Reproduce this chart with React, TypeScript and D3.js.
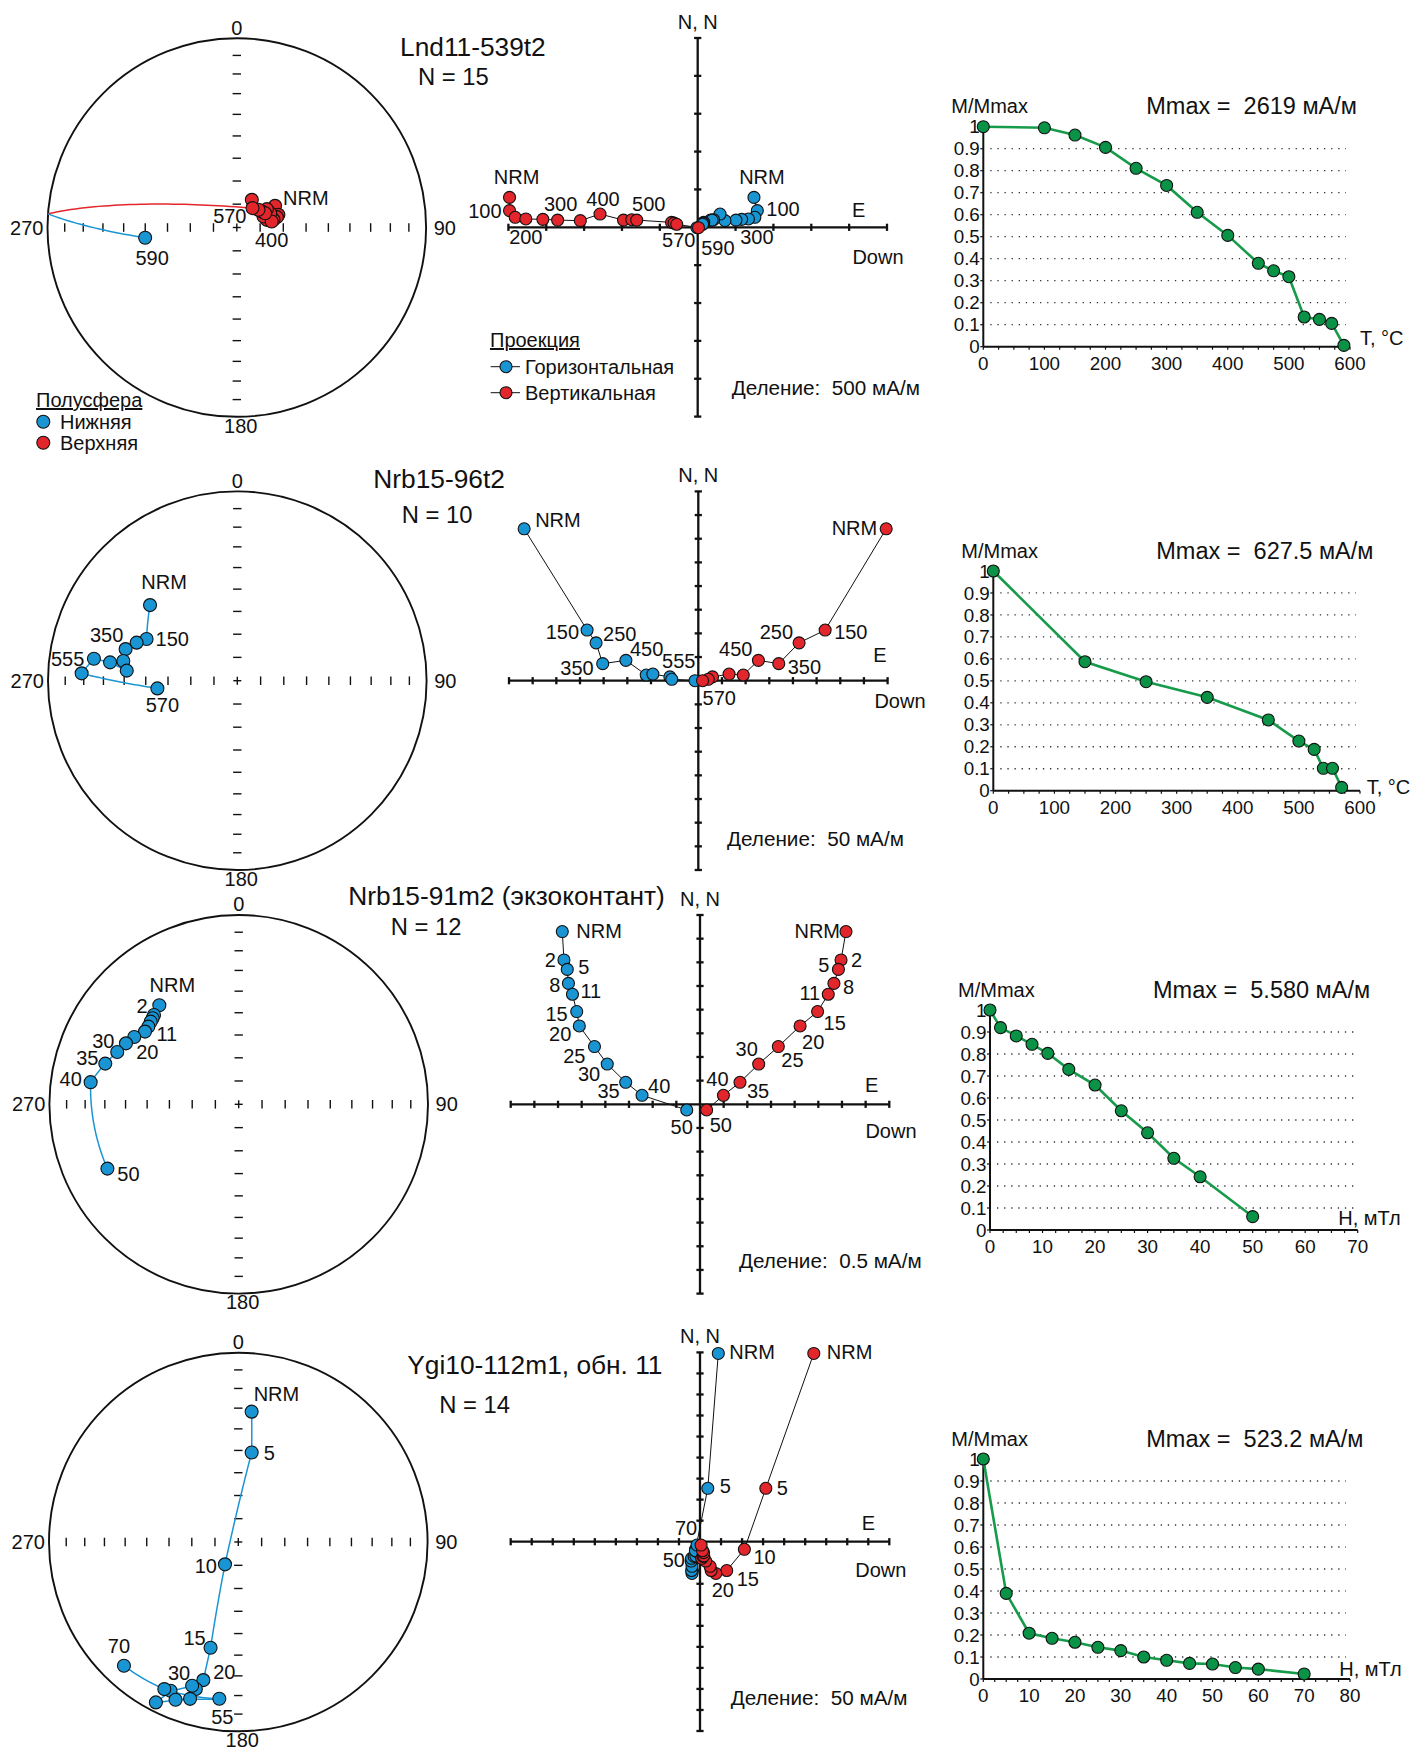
import React from 'react';
import * as d3 from 'd3';

const FONT = '"Liberation Sans", Arial, Helvetica, sans-serif';
const BLUE = '#1a95d4';
const RED = '#e3262b';
const GREEN_LINE = '#179b4b';
const GREEN_FILL = '#0a9346';
const INK = '#111';

// ================= DATA =================
// Row 1 — Lnd11-539t2 (thermal demagnetization, °C)
const steps1 = ['NRM', '100', '150', '200', '250', '300', '350', '400', '450', '475', '500', '525', '550', '570', '590'];
const dec1 = [60.5, 73.1, 75.5, 78.2, 66.7, 75.7, 67.6, 80.3, 58.6, 57.4, 63.2, 50.8, 28.5, 39, 263.6];
const inc1 = [-71.1, -71.3, -72.2, -73.9, -74.4, -76.7, -77.6, -74.8, -74.9, -77.3, -76.4, -78, -76.5, -79.3, 49.7];
const zN1 = [395, 220, 132, 110, 105, 95, 88, 175, 95, 100, 95, 65, 55, 40, -5];
const zE1 = [743, 787, 755, 670, 580, 505, 360, 295, 170, 210, 190, 80, 70, 65, -10];
const zD1 = [-2485, -2485, -2410, -2270, -2045, -1850, -1550, -1290, -980, -870, -805, -345, -312, -277, 10];
const field1 = [0, 100, 150, 200, 250, 300, 350, 400, 450, 475, 500, 525, 550, 570, 590];
const mag1 = [1, 0.995, 0.962, 0.906, 0.811, 0.733, 0.611, 0.506, 0.379, 0.345, 0.318, 0.135, 0.124, 0.106, 0.006];
const xTicks1 = [0, 100, 200, 300, 400, 500, 600];

// Row 2 — Nrb15-96t2 (thermal, °C)
const steps2 = ['NRM', '150', '250', '350', '450', '500', '525', '540', '555', '570'];
const dec2 = [310.9, 294.7, 290.7, 285.8, 279.8, 275.2, 278.2, 278.7, 272.7, 264.5];
const inc2 = [38.9, 46.2, 42.6, 38.6, 38.8, 41, 32.6, 24.4, 18.8, 55.1];
const zN2 = [321, 107, 80, 36, 43, 12, 14, 8, 3, 0];
const zE2 = [-368, -235, -216, -202, -153, -110, -96, -60, -56, -7];
const zD2 = [397, 268, 213, 170, 127, 95, 65, 30, 21, 9];
const field2 = [0, 150, 250, 350, 450, 500, 525, 540, 555, 570];
const mag2 = [1, 0.587, 0.496, 0.425, 0.322, 0.226, 0.188, 0.102, 0.102, 0.015];
const xTicks2 = [0, 100, 200, 300, 400, 500, 600];

// Row 3 — Nrb15-91m2 (экзоконтант) (AF, mT)
const steps3 = ['NRM', '2', '5', '8', '11', '15', '20', '25', '30', '35', '40', '50'];
const dec3 = [321.3, 316.5, 315, 313.2, 310.7, 307.8, 302.8, 298.4, 293.3, 286.96, 278.5, 243.9];
const inc3 = [33.4, 35.25, 35.9, 36.4, 37.15, 37.4, 34.7, 32.8, 30.8, 27.2, 22.0, 23.8];
const zN3 = [3.65, 3.05, 2.85, 2.555, 2.325, 1.96, 1.655, 1.22, 0.85, 0.465, 0.19, -0.12];
const zE3 = [-2.91, -2.875, -2.805, -2.78, -2.695, -2.605, -2.55, -2.23, -1.96, -1.57, -1.225, -0.28];
const zD3 = [3.085, 2.98, 2.925, 2.83, 2.71, 2.485, 2.115, 1.655, 1.24, 0.845, 0.495, 0.14];
const field3 = [0, 2, 5, 8, 11, 15, 20, 25, 30, 35, 40, 50];
const mag3 = [1, 0.92, 0.882, 0.844, 0.803, 0.73, 0.659, 0.542, 0.442, 0.326, 0.242, 0.061];
const xTicks3 = [0, 10, 20, 30, 40, 50, 60, 70];

// Row 4 — Ygi10-112m1, обн. 11 (AF, mT)
const steps4 = ['NRM', '5', '10', '15', '20', '25', '30', '35', '40', '45', '50', '55', '60', '70'];
const dec4 = [5.84, 8.5, 210.8, 194.7, 194.2, 196.1, 197.8, 204.5, 207.2, 201.7, 197.1, 186.9, 206.7, 222.75];
const inc4 = [31.4, 50.5, 78.85, 41.8, 25.7, 20.25, 21.3, 14.76, 5.3, 11.3, 14.4, 17.7, 14.1, 12];
const zN4 = [447.5, 127, -18, -68.5, -75.5, -68.5, -58.5, -46, -39.5, -35, -33.5, -26, -21.5, -8];
const zE4 = [43.5, 18.5, -10.5, -18, -19, -20, -19, -21, -20, -14, -10, -3, -11, -7];
const zD4 = [270.5, 156.5, 105.5, 63.5, 37.5, 26.5, 24, 13.5, 4, 7.5, 9, 8.5, 6, 2.5];
const field4 = [0, 5, 10, 15, 20, 25, 30, 35, 40, 45, 50, 55, 60, 70];
const mag4 = [1, 0.389, 0.208, 0.185, 0.167, 0.144, 0.129, 0.1, 0.085, 0.071, 0.068, 0.052, 0.045, 0.023];
const xTicks4 = [0, 10, 20, 30, 40, 50, 60, 70, 80];

const yTicks = [0, 0.1, 0.2, 0.3, 0.4, 0.5, 0.6, 0.7, 0.8, 0.9, 1];
const titles = ['Lnd11-539t2', 'Nrb15-96t2', 'Nrb15-91m2 (экзоконтант)', 'Ygi10-112m1, обн. 11'];
const mmaxTexts = ['2619', '627.5', '5.580', '523.2'];
const divisions = [500, 50, 0.5, 50];
const divCounts = [5, 8, 8, 9];
const divTexts = ['500', '50', '0.5', '50'];
const xTitles = ['T, °C', 'T, °C', 'H, мТл', 'H, мТл'];
const xMinor = [25, 25, 2.5, 2.5];

// ================= LABEL LAYOUT (offsets from the labelled point) =================
type Lab = [number, string, number, number];
const stLabels: Lab[][] = [
  [[0, 'start', 8, -8], [13, 'end', -6, 8], [7, 'middle', 0, 18], [14, 'middle', 7, 20]],
  [[0, 'middle', 14, -23], [1, 'start', 9, 0], [3, 'middle', -19, -14], [8, 'middle', -14, -14], [9, 'middle', 5, 17]],
  [[0, 'middle', 13, -20], [1, 'middle', -12, -9], [4, 'start', 8, 7], [6, 'middle', 13, 15], [8, 'middle', -14, -11], [9, 'middle', -18, -6], [10, 'middle', -20, -3], [11, 'middle', 21, 5]],
  [[0, 'start', 2, -18], [1, 'start', 12, 0], [2, 'end', -8, 2], [3, 'middle', -16, -10], [4, 'middle', 21, -8], [6, 'middle', -13, -13], [11, 'middle', 3, 18], [13, 'middle', -5, -20]],
];
type ZLab = [string, number, string, number, number];
const zjLabels: ZLab[][] = [
  [['v', 0, 'middle', 7, -20], ['v', 1, 'end', -8, 0], ['v', 3, 'middle', 0, 18], ['v', 5, 'middle', 3, -16], ['v', 7, 'middle', 3, -15], ['v', 10, 'middle', 12, -16], ['v', 13, 'middle', 2, 16], ['h', 0, 'middle', 8, -20], ['h', 1, 'start', 9, -2], ['h', 5, 'middle', 21, 17], ['h', 14, 'middle', 21, 20]],
  [['h', 0, 'start', 11, -9], ['h', 1, 'end', -8, 2], ['h', 2, 'start', 7, -9], ['h', 3, 'end', -9, 4], ['h', 4, 'start', 4, -11], ['h', 8, 'middle', 7, -18], ['v', 0, 'end', -9, -1], ['v', 1, 'start', 9, 2], ['v', 2, 'end', -6, -11], ['v', 3, 'start', 9, 3], ['v', 4, 'end', -6, -11], ['v', 9, 'start', 0, 17]],
  [['h', 0, 'start', 14, -1], ['h', 1, 'end', -8, 0], ['h', 2, 'start', 11, -2], ['h', 3, 'end', -8, 2], ['h', 4, 'start', 8, -3], ['h', 5, 'end', -9, 2], ['h', 6, 'end', -8, 8], ['h', 7, 'end', -9, 9], ['h', 8, 'end', -7, 10], ['h', 9, 'end', -6, 9], ['h', 10, 'start', 6, -9], ['h', 11, 'middle', -5, 17],
   ['v', 0, 'end', -6, -1], ['v', 1, 'start', 10, 0], ['v', 2, 'end', -9, -4], ['v', 3, 'start', 9, 4], ['v', 4, 'end', -8, -1], ['v', 5, 'start', 6, 11], ['v', 6, 'start', 2, 16], ['v', 7, 'start', 3, 13], ['v', 8, 'middle', -12, -15], ['v', 9, 'start', 7, 9], ['v', 10, 'middle', -6, -16], ['v', 11, 'start', 3, 15]],
  [['h', 0, 'start', 11, -1], ['h', 1, 'start', 12, -2], ['h', 13, 'middle', -11, -17], ['h', 10, 'middle', -22, 4], ['v', 0, 'start', 13, -1], ['v', 1, 'start', 11, 0], ['v', 2, 'start', 9, 8], ['v', 3, 'start', 10, 8], ['v', 4, 'middle', 7, 17]],
];

const layout = [
  { titleX: 400, titleY: 46.7, nX: 418, nY: 76.7, st: [236.8, 227.5], zj: [697.7, 227.3], eOff: [161, -17.3], dOff: [180.3, 30], delX: 731.7, delY: 387.3, dm: { x0: 983.3, x1: 1350, y0: 346.7, y1: 126.7 }, xtOff: [10, -8.4] },
  { titleX: 373.3, titleY: 478.3, nX: 401.7, nY: 515, st: [237.3, 680.7], zj: [698.3, 680.7], eOff: [181.7, -25.7], dOff: [201.7, 20], delX: 727, delY: 838.3, dm: { x0: 993.3, x1: 1360, y0: 790.7, y1: 571 }, xtOff: [6.7, -4] },
  { titleX: 348.3, titleY: 896, nX: 390.7, nY: 926.7, st: [238.7, 1104.3], zj: [700, 1104.3], eOff: [171.7, -19.3], dOff: [191, 26.4], delX: 739, delY: 1261, dm: { x0: 990, x1: 1357.7, y0: 1230, y1: 1010 }, xtOff: [-19.4, -11.7] },
  { titleX: 407.3, titleY: 1365, nX: 439.3, nY: 1405, st: [238.3, 1542], zj: [700, 1541.7], eOff: [168.3, -18.4], dOff: [180.8, 28.3], delX: 730.7, delY: 1697.7, dm: { x0: 983.3, x1: 1350, y0: 1679, y1: 1459 }, xtOff: [-10.7, -9.7] },
];

const data = [
  { steps: steps1, dec: dec1, inc: inc1, zN: zN1, zE: zE1, zD: zD1, field: field1, mag: mag1, xTicks: xTicks1 },
  { steps: steps2, dec: dec2, inc: inc2, zN: zN2, zE: zE2, zD: zD2, field: field2, mag: mag2, xTicks: xTicks2 },
  { steps: steps3, dec: dec3, inc: inc3, zN: zN3, zE: zE3, zD: zD3, field: field3, mag: mag3, xTicks: xTicks3 },
  { steps: steps4, dec: dec4, inc: inc4, zN: zN4, zE: zE4, zD: zD4, field: field4, mag: mag4, xTicks: xTicks4 },
];

const R = 189.3;
const HALF = 189.3;
const LS = 20; // label font size

// ================= helpers =================
const rad = Math.PI / 180;
function dirVec(d: number, i: number): number[] {
  return [Math.cos(i * rad) * Math.cos(d * rad), Math.cos(i * rad) * Math.sin(d * rad), Math.sin(i * rad)];
}
function normV(v: number[]) {
  const l = Math.hypot(v[0], v[1], v[2]) || 1;
  return [v[0] / l, v[1] / l, v[2] / l];
}
function greatCircleRuns(v1: number[], v2: number[], n = 60) {
  const dot = Math.max(-1, Math.min(1, v1[0] * v2[0] + v1[1] * v2[1] + v1[2] * v2[2]));
  const om = Math.acos(dot);
  const pts: number[][] = [];
  for (let k = 0; k <= n; k++) {
    const t = k / n;
    if (om < 1e-6) { pts.push(v1); continue; }
    const a = Math.sin((1 - t) * om) / Math.sin(om);
    const b = Math.sin(t * om) / Math.sin(om);
    pts.push([a * v1[0] + b * v2[0], a * v1[1] + b * v2[1], a * v1[2] + b * v2[2]]);
  }
  const runs: { upper: boolean; pts: number[][] }[] = [];
  let cur = { upper: pts[0][2] < 0, pts: [pts[0]] };
  for (let k = 1; k < pts.length; k++) {
    const p = pts[k], q = pts[k - 1];
    const up = p[2] < 0;
    if (up !== cur.upper) {
      const f = q[2] / (q[2] - p[2]);
      const c = normV([q[0] + f * (p[0] - q[0]), q[1] + f * (p[1] - q[1]), 0]);
      cur.pts.push(c);
      runs.push(cur);
      cur = { upper: up, pts: [c, p] };
    } else cur.pts.push(p);
  }
  runs.push(cur);
  return runs;
}

function T({ x, y, children, anchor = 'start', size = LS, style }: any) {
  return (
    <text x={x} y={y} dy="0.35em" textAnchor={anchor} fontSize={size} fontFamily={FONT} fill={INK} style={style}>
      {children}
    </text>
  );
}

// ================= Stereonet =================
function Stereonet({ cx, cy, d, labels }: any) {
  const rScale = d3.scaleSqrt().domain([0, 1]).range([0, R]);
  const proj = (v: number[]) => {
    const h = Math.hypot(v[0], v[1]);
    const r = rScale(Math.max(0, 1 - Math.abs(v[2])));
    if (h < 1e-9) return [cx, cy];
    return [cx + (r * v[1]) / h, cy - (r * v[0]) / h];
  };
  const vecs = d.dec.map((dd: number, k: number) => dirVec(dd, d.inc[k]));
  const pts = vecs.map(proj);
  const tickR = d3.range(10, 90, 10).map((t) => rScale(1 - Math.cos(t * rad)));
  const line = d3.line();
  const runs: any[] = [];
  for (let k = 1; k < vecs.length; k++) runs.push(...greatCircleRuns(vecs[k - 1], vecs[k]));
  return (
    <g>
      <circle cx={cx} cy={cy} r={R} fill="none" stroke={INK} strokeWidth={1.9} />
      {tickR.map((r, k) => (
        <g key={k} stroke={INK} strokeWidth={1.4}>
          <line x1={cx - r} x2={cx - r} y1={cy - 4.3} y2={cy + 4.3} />
          <line x1={cx + r} x2={cx + r} y1={cy - 4.3} y2={cy + 4.3} />
          <line x1={cx - 4.2} x2={cx + 4.2} y1={cy - r} y2={cy - r} />
          <line x1={cx - 4.2} x2={cx + 4.2} y1={cy + r} y2={cy + r} />
        </g>
      ))}
      <g stroke={INK} strokeWidth={1.4}>
        <line x1={cx - 4} x2={cx + 4} y1={cy} y2={cy} />
        <line x1={cx} x2={cx} y1={cy - 4} y2={cy + 4} />
      </g>
      <T x={cx} y={cy - 200} anchor="middle">0</T>
      <T x={cx + 208} y={cy} anchor="middle">90</T>
      <T x={cx + 4} y={cy + 198} anchor="middle">180</T>
      <T x={cx - 210} y={cy} anchor="middle">270</T>
      {runs.map((r, k) => (
        <path key={k} d={line(r.pts.map(proj) as any) || ''} fill="none" stroke={r.upper ? RED : BLUE} strokeWidth={1.5} />
      ))}
      {pts.map((p: number[], k: number) => (
        <circle key={k} cx={p[0]} cy={p[1]} r={6.5} fill={d.inc[k] < 0 ? RED : BLUE} stroke={INK} strokeWidth={1.1} />
      ))}
      {labels.map((l: Lab, k: number) => (
        <T key={k} x={pts[l[0]][0] + l[2]} y={pts[l[0]][1] + l[3]} anchor={l[1]}>{d.steps[l[0]]}</T>
      ))}
    </g>
  );
}

// ================= Zijderveld =================
function Zijderveld({ cx, cy, d, div, nDiv, labels, lay, divText }: any) {
  const ext = div * nDiv;
  const sx = d3.scaleLinear().domain([-ext, ext]).range([cx - HALF, cx + HALF]);
  const sy = d3.scaleLinear().domain([-ext, ext]).range([cy + HALF, cy - HALF]);
  const ticks = d3.range(-nDiv, nDiv + 1).filter((t) => t !== 0).map((t) => t * div);
  const hPts = d.zE.map((e: number, k: number) => [sx(e), sy(d.zN[k])]);
  const vPts = d.zD.map((z: number, k: number) => [sx(z), sy(d.zN[k])]);
  const line = d3.line();
  return (
    <g>
      <g stroke={INK} strokeWidth={2.3}>
        <line x1={sx(-ext)} x2={sx(ext)} y1={cy} y2={cy} />
        <line x1={cx} x2={cx} y1={sy(ext)} y2={sy(-ext)} />
        {ticks.map((t, k) => (
          <g key={k}>
            <line x1={sx(t)} x2={sx(t)} y1={cy - 3.6} y2={cy + 3.6} />
            <line x1={cx - 3.6} x2={cx + 3.6} y1={sy(t)} y2={sy(t)} />
          </g>
        ))}
      </g>
      <T x={cx} y={sy(ext) - 16.5} anchor="middle">N, N</T>
      <T x={cx + lay.eOff[0]} y={cy + lay.eOff[1]} anchor="middle">E</T>
      <T x={cx + lay.dOff[0]} y={cy + lay.dOff[1]} anchor="middle">Down</T>
      <T x={lay.delX} y={lay.delY} size={20.7} style={{ whiteSpace: 'pre' }}>{`Деление:  ${divText} мА/м`}</T>
      <path d={line(hPts) || ''} fill="none" stroke={INK} strokeWidth={1} />
      <path d={line(vPts) || ''} fill="none" stroke={INK} strokeWidth={1} />
      {hPts.map((p: number[], k: number) => (
        <circle key={'h' + k} cx={p[0]} cy={p[1]} r={6} fill={BLUE} stroke={INK} strokeWidth={1.1} />
      ))}
      {vPts.map((p: number[], k: number) => (
        <circle key={'v' + k} cx={p[0]} cy={p[1]} r={6} fill={RED} stroke={INK} strokeWidth={1.1} />
      ))}
      {labels.map((l: ZLab, k: number) => {
        const p = l[0] === 'h' ? hPts[l[1]] : vPts[l[1]];
        return <T key={k} x={p[0] + l[3]} y={p[1] + l[4]} anchor={l[2]}>{d.steps[l[1]]}</T>;
      })}
    </g>
  );
}

// ================= Demagnetization curve =================
function Demag({ dm, d, mmax, xTitle, xtOff, minor }: any) {
  const xMax = d.xTicks[d.xTicks.length - 1];
  const sx = d3.scaleLinear().domain([0, xMax]).range([dm.x0, dm.x1]);
  const sy = d3.scaleLinear().domain([0, 1]).range([dm.y0, dm.y1]);
  const line = d3.line<number>().x((v, k) => sx(d.field[k])).y((v) => sy(v));
  const minors = d3.range(0, xMax + 0.001, minor);
  return (
    <g>
      {yTicks.filter((v) => v > 0 && v < 1).map((v, k) => (
        <line key={k} x1={dm.x0 + 7} x2={dm.x1 - 4} y1={sy(v)} y2={sy(v)} stroke="#333" strokeWidth={1.3} strokeDasharray="1.3 5.8" />
      ))}
      <g stroke={INK} strokeWidth={2}>
        <line x1={dm.x0} x2={dm.x1} y1={dm.y0} y2={dm.y0} />
        <line x1={dm.x0} x2={dm.x0} y1={dm.y0} y2={sy(1) - 5} />
      </g>
      <g stroke={INK} strokeWidth={1.2}>
        {minors.map((v, k) => (
          <line key={k} x1={sx(v)} x2={sx(v)} y1={dm.y0} y2={dm.y0 + 3} />
        ))}
        {yTicks.map((v, k) => (
          <line key={'y' + k} x1={dm.x0 - 3} x2={dm.x0} y1={sy(v)} y2={sy(v)} />
        ))}
      </g>
      {yTicks.map((v, k) => (
        <T key={k} x={dm.x0 - 3.5} y={sy(v)} anchor="end" size={18.8}>{v === 0 ? '0' : v === 1 ? '1' : d3.format('.1f')(v)}</T>
      ))}
      {d.xTicks.map((v: number, k: number) => (
        <T key={k} x={sx(v)} y={dm.y0 + 16.5} anchor="middle" size={18.8}>{String(v)}</T>
      ))}
      <T x={dm.x0 - 32} y={sy(1) - 20.5} size={20}>M/Mmax</T>
      <T x={dm.x0 + 163} y={sy(1) - 20.5} size={23.5} style={{ whiteSpace: 'pre' }}>{`Mmax =  ${mmax} мА/м`}</T>
      <T x={dm.x1 + xtOff[0]} y={dm.y0 + xtOff[1]} size={20}>{xTitle}</T>
      <path d={line(d.mag) || ''} fill="none" stroke={GREEN_LINE} strokeWidth={2.6} />
      {d.mag.map((v: number, k: number) => (
        <circle key={k} cx={sx(d.field[k])} cy={sy(v)} r={6} fill={GREEN_FILL} stroke={INK} strokeWidth={1.1} />
      ))}
    </g>
  );
}

export default function App() {
  return (
    <svg width={1415} height={1751} viewBox="0 0 1415 1751" style={{ position: 'absolute', left: 0, top: 0, background: '#fff' }}>
      <rect x={0} y={0} width={1415} height={1751} fill="#fff" />
      {data.map((d, i) => {
        const lay = layout[i];
        return (
          <g key={i}>
            <T x={lay.titleX} y={lay.titleY} size={26.3}>{titles[i]}</T>
            <T x={lay.nX} y={lay.nY} size={23.8}>{`N = ${d.steps.length}`}</T>
            <Stereonet cx={lay.st[0]} cy={lay.st[1]} d={d} labels={stLabels[i]} />
            <Zijderveld cx={lay.zj[0]} cy={lay.zj[1]} d={d} div={divisions[i]} nDiv={divCounts[i]} labels={zjLabels[i]} lay={lay} divText={divTexts[i]} />
            <Demag dm={lay.dm} d={d} mmax={mmaxTexts[i]} xTitle={xTitles[i]} xtOff={lay.xtOff} minor={xMinor[i]} />
          </g>
        );
      })}
      {/* legends */}
      <T x={36} y={400} style={{ textDecoration: 'underline' }}>Полусфера</T>
      <circle cx={43.3} cy={421.7} r={6.5} fill={BLUE} stroke={INK} strokeWidth={1.1} />
      <T x={60} y={421.7}>Нижняя</T>
      <circle cx={43.3} cy={442.7} r={6.5} fill={RED} stroke={INK} strokeWidth={1.1} />
      <T x={60} y={442.7}>Верхняя</T>

      <T x={490} y={340} style={{ textDecoration: 'underline' }}>Проекция</T>
      <line x1={490.7} x2={520} y1={366.7} y2={366.7} stroke={INK} strokeWidth={1} />
      <circle cx={506} cy={366.7} r={6} fill={BLUE} stroke={INK} strokeWidth={1.1} />
      <T x={525} y={366.7}>Горизонтальная</T>
      <line x1={490.7} x2={520} y1={392.7} y2={392.7} stroke={INK} strokeWidth={1} />
      <circle cx={506} cy={392.7} r={6} fill={RED} stroke={INK} strokeWidth={1.1} />
      <T x={525} y={392.7}>Вертикальная</T>
    </svg>
  );
}
